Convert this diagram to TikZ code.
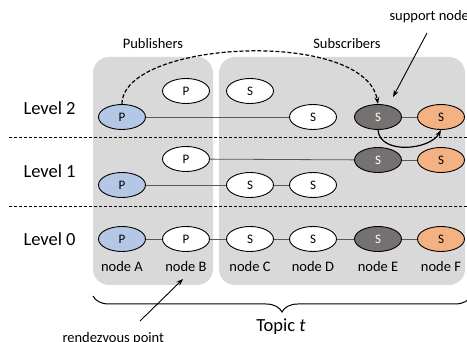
\documentclass[tikz,border=0pt]{standalone}
\usepackage{fontspec}
\setmainfont{Carlito}
\usetikzlibrary{shapes.geometric,arrows.meta,decorations.pathreplacing}
\definecolor{pubblue}{HTML}{B4C7E7}
\definecolor{suporange}{HTML}{F4B183}
\definecolor{supgray}{HTML}{767171}
\definecolor{groupgray}{HTML}{D9D9D9}
\definecolor{linkgray}{HTML}{595959}
\tikzset{
  peer/.style={ellipse, draw=black, line width=0.9pt, fill=white,
    minimum width=47pt, minimum height=25pt, inner sep=0pt, font=\fontsize{13}{13}\selectfont},
  pub/.style={peer, fill=pubblue},
  sup/.style={peer, fill=supgray, text=white},
  edgepeer/.style={peer, fill=suporange},
  link/.style={draw=linkgray, line width=0.8pt},
  group/.style={fill=groupgray, rounded corners=16pt},
  lvl/.style={font=\fontsize{18.5}{18.5}\selectfont, anchor=west},
  caption/.style={font=\fontsize{14.5}{14.5}\selectfont},
  divider/.style={line width=0.9pt, dash pattern=on 3pt off 2pt},
  pointer/.style={line width=0.9pt, -{Stealth[length=7pt,width=5pt]}}
}
\begin{document}
\begin{tikzpicture}[x=1pt,y=-1pt]
\useasboundingbox (0,0) rectangle (467,342);
\clip (0,0) rectangle (467,342);

% publisher and subscriber groups
\fill[group] (93,57) rectangle (213,285);
\fill[group] (219,57) rectangle (465,285);
\node[caption] (pubs) at (153,44) {Publishers};
\node[caption] (subs) at (347,44) {Subscribers};

% level separators
\draw[divider] (9,137) -- (467,137);
\draw[divider] (9,206) -- (467,206);
\node[lvl] (l2) at (20,108) {Level 2};
\node[lvl] (l1) at (20,171) {Level 1};
\node[lvl] (l0) at (20,239) {Level 0};

% level 2
\node[pub]  (a2) at (122,117) {P};
\node[peer] (b2) at (186,91) {P};
\node[peer] (c2) at (250,91) {S};
\node[peer] (d2) at (313,117) {S};
\node[sup]  (e2) at (378,117) {S};
\node[edgepeer] (f2) at (441,117) {S};
\draw[link] (a2) -- (d2);
\draw[link] (e2) -- (f2);

% level 1
\node[peer] (b1) at (186,159) {P};
\node[sup]  (e1) at (378,160) {S};
\node[edgepeer] (f1) at (441,160) {S};
\node[pub]  (a1) at (122,185) {P};
\node[peer] (c1) at (250,185) {S};
\node[peer] (d1) at (313,185) {S};
\draw[link] (b1) -- (e1);
\draw[link] (e1) -- (f1);
\draw[link] (a1) -- (c1) -- (d1);

% level 0
\node[pub]  (a0) at (122,239) {P};
\node[peer] (b0) at (186,239) {P};
\node[peer] (c0) at (250,239) {S};
\node[peer] (d0) at (313,239) {S};
\node[sup]  (e0) at (378,239) {S};
\node[edgepeer] (f0) at (441,239) {S};
\draw[link] (a0) -- (b0) -- (c0) -- (d0) -- (e0) -- (f0);
\node[caption] (na) at (122,267) {node A};
\node[caption] (nb) at (186,267) {node B};
\node[caption] (nc) at (250,267) {node C};
\node[caption] (nd) at (313,267) {node D};
\node[caption] (ne) at (378,267) {node E};
\node[caption] (nf) at (441,267) {node F};

% forwarding paths
\draw[line width=1.2pt, dash pattern=on 4pt off 2pt, -{Stealth[length=7pt,width=5pt]}]
  (a2.north) .. controls (122,40) and (365,28) .. (e2.north);
\draw[line width=1.2pt, -{Stealth[length=7pt,width=5pt]}]
  (e2.south) .. controls (380,155) and (430,150) .. (f2.south);

% annotations
\node[caption, anchor=west] (sn) at (386,17) {support node};
\coordinate (snend) at (393,97);
\draw[pointer] (427,33) -- (snend);

\draw[line width=1pt, decorate, decoration={brace, mirror, amplitude=16pt}]
  (93,296) -- (471,296);
\node[font=\fontsize{18.5}{18.5}\selectfont] (topic) at (281,327) {Topic \textit{t}};

\node[caption, anchor=west] (rp) at (59,339) {rendezvous point};
\coordinate (rpend) at (183,279);
\draw[pointer] (140,321) -- (rpend);
\end{tikzpicture}
\end{document}
